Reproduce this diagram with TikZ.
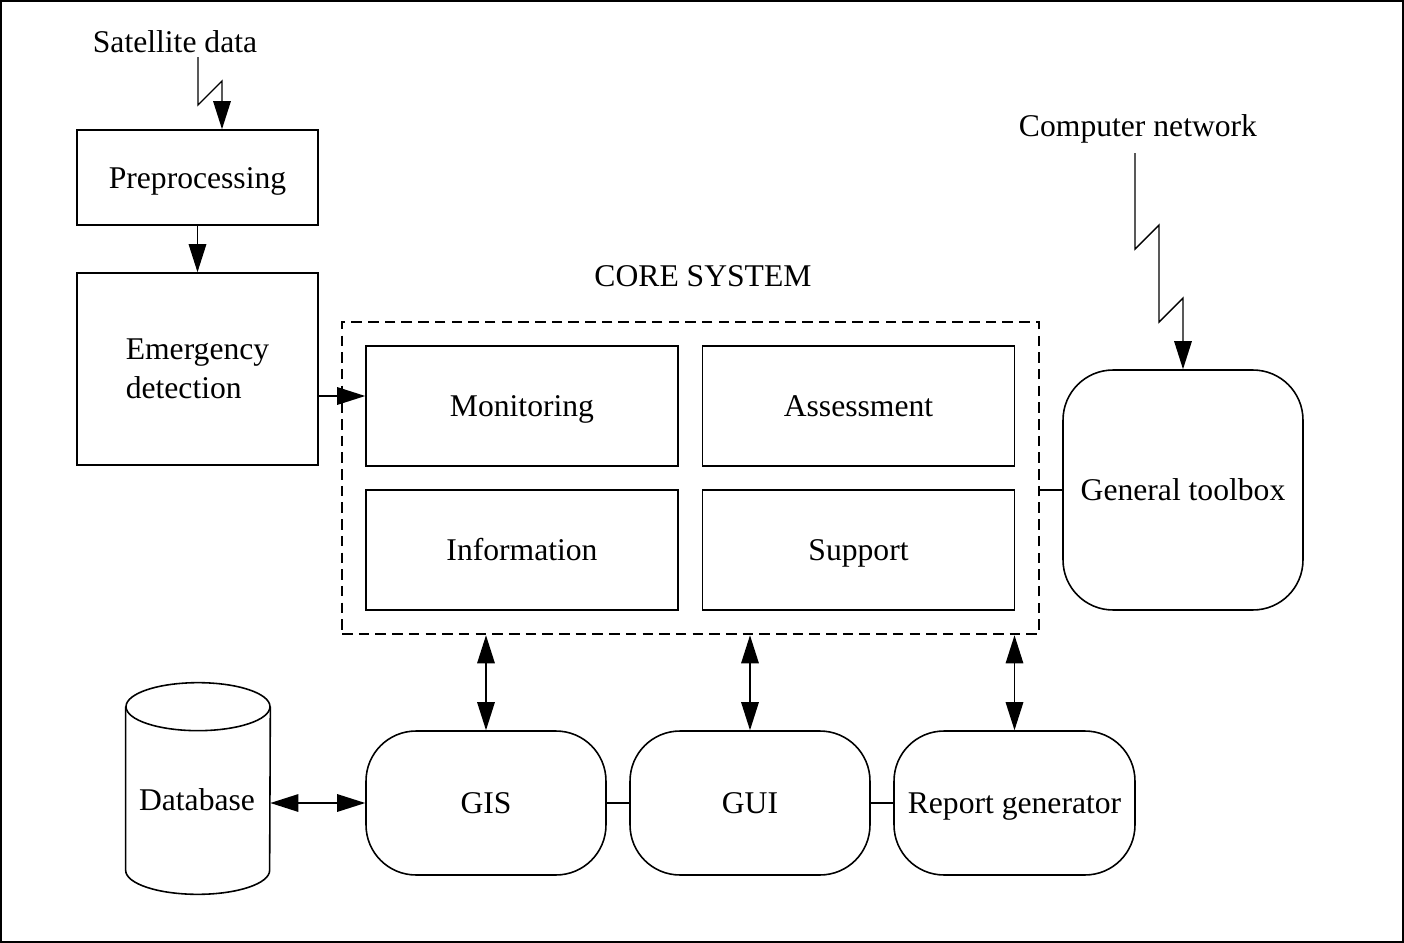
\documentclass[tikz,border=0pt]{standalone}
\usepackage{fontspec}
\setmainfont{Liberation Serif}
\usetikzlibrary{arrows.meta}

\begin{document}
\begin{tikzpicture}[x=0.02cm,y=-0.02cm,
  every node/.style={font=\fontsize{18}{22}\selectfont,text height=12pt,text depth=0pt},
  stagebox/.style={draw,line width=0.9pt,minimum width=4.82cm,minimum height=1.9cm},
  modbox/.style={draw,line width=0.9pt,minimum width=6.24cm,minimum height=2.4cm},
  toolbox/.style={draw,line width=0.9pt,rounded corners=1cm,minimum width=4.8cm,minimum height=2.88cm},
  wire/.style={line width=0.8pt},
  onearrow/.style={wire,-{Triangle[length=16pt,width=10pt]}},
  twoarrow/.style={wire,{Triangle[length=16pt,width=10pt]}-{Triangle[length=16pt,width=10pt]}}]

      % frame
      \useasboundingbox (0,0) rectangle (1404,943);
      \draw[line width=0.9pt] (1,1) rectangle (1403,942);

      % input chain
      \node (satdata) at (175,42) {Satellite data};
      \node[stagebox] (prep) at (197.5,177.5) {Preprocessing};
      \node[stagebox,minimum height=3.84cm,align=left,text height=,text depth=] (detect) at (197.5,369) {Emergency\\detection};
      \coordinate (satin) at (198,57);
      \draw[onearrow] (satin) -- ++(0,48) -- ++(24,-24) -- ([xshift=0.49cm]prep.north);
      \draw[onearrow] (prep) -- (detect);

      % core system
      \node (coretitle) at (703,276) {CORE SYSTEM};
      \node[draw,dash pattern=on 6pt off 3.5pt,line width=1.5pt,minimum width=13.94cm,minimum height=6.24cm] (core) at (690.5,478) {};
      \node[modbox] (monitor) at (522,406) {Monitoring};
      \node[modbox] (assess) at (858.5,406) {Assessment};
      \node[modbox] (inform) at (522,550) {Information};
      \node[modbox] (support) at (858.5,550) {Support};
      \draw[onearrow] ([yshift=0.2cm]detect.east |- monitor.west) -- ([yshift=0.2cm]monitor.west);

      % toolbox and network
      \node[toolbox,minimum height=4.8cm] (general) at (1183,490) {General toolbox};
      \draw[wire] (general.west) -- (general.west -| core.east);
      \node (network) at (1138,126) {Computer network};
      \coordinate (netin) at (1135,153);
      \draw[onearrow] (netin) -- ++(0,96) -- ++(24,-24) -- ++(0,97) -- ++(24,-24) -- (general.north);

      % tools below
      \node[toolbox] (gis) at (486,803) {GIS};
      \node[toolbox] (gui) at (750,803) {GUI};
      \node[toolbox,minimum width=4.82cm] (report) at (1014.5,803) {Report generator};
      \draw[wire] (gis) -- (gui);
      \draw[wire] (gui) -- (report);
      \draw[twoarrow] (gis.north |- core.south) -- (gis.north);
      \draw[twoarrow] (gui.north |- core.south) -- (gui.north);
      \draw[twoarrow] (report.north |- core.south) -- (report.north);

      % database
      \node[minimum width=2.88cm,minimum height=3.26cm,inner sep=0pt] (db) at (198,788.5) {};
      \draw[line width=0.9pt] (db.north west) -- (db.south west) arc[start angle=180,end angle=360,x radius=1.44cm,y radius=0.48cm] -- (db.north east);
      \draw[line width=0.9pt] (db.north) ellipse[x radius=1.44cm,y radius=0.48cm];
      \node (dblabel) at (197,800) {Database};
      \draw[twoarrow] (gis.west -| db.east) -- (gis.west);

\end{tikzpicture}
\end{document}
